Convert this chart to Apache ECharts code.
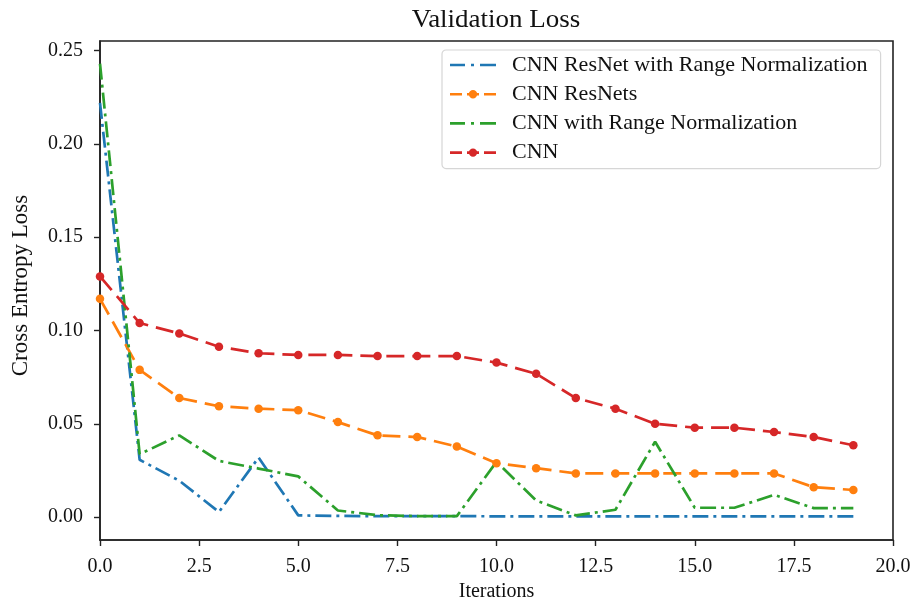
<!DOCTYPE html>
<html>
<head>
<meta charset="utf-8">
<script src="https://cdn.jsdelivr.net/npm/echarts@6/dist/echarts.min.js"></script>
<style>
  html, body { margin: 0; padding: 0; background: #fff; }
  #chart { width: 916px; height: 607px; }
</style>
</head>
<body>
<div id="chart"></div>
<script>
// Validation loss per iteration for four model variants
const iterations = [0,1,2,3,4,5,6,7,8,9,10,11,12,13,14,15,16,17,18,19];

const resnetRangeNorm = [0.222,0.0307,0.0195,0.0027,0.0319,0.0009,0.0006,0.0005,0.0005,0.0005,0.0004,0.0004,0.0004,0.0004,0.0004,0.0004,0.0004,0.0004,0.0004,0.0004];
const resnets = [0.117,0.0789,0.0638,0.0594,0.0581,0.0573,0.0509,0.0438,0.0429,0.0378,0.0289,0.0262,0.0234,0.0234,0.0234,0.0234,0.0234,0.0234,0.016,0.0145];
const cnnRangeNorm = [0.243,0.0337,0.0438,0.0301,0.026,0.0218,0.0035,0.001,0.0005,0.0005,0.0296,0.0089,0.0009,0.0039,0.0404,0.005,0.005,0.0119,0.0048,0.0048];
const cnn = [0.129,0.104,0.0984,0.0913,0.0878,0.0869,0.0869,0.0863,0.0863,0.0863,0.0828,0.0768,0.0638,0.0581,0.050,0.0479,0.0479,0.0456,0.0429,0.0385];

const seriesNames = ['CNN ResNet with Range Normalization','CNN ResNets','CNN with Range Normalization','CNN'];
const xTicks = [0,2.5,5,7.5,10,12.5,15,17.5,20];
const yTicks = [0,0.05,0.1,0.15,0.2,0.25];

const FONT = '"Liberation Serif", "DejaVu Serif", serif';
const dashDot = [16,5,3,5];
const dashed = [18,8];

// Legend handles drawn on a 46x10 box (the leading moves pin the box size)
const ICON_DASH_MARKER = 'path://M0,0M46,10M0,3.7h12v2.6h-12zM17,3.7h12v2.6h-12zM34,3.7h12v2.6h-12zM18.8,5a4.2,4.2 0 1,1 8.4,0a4.2,4.2 0 1,1 -8.4,0z';
const ICON_DASH_DOT = 'path://M0,0M46,10M0,3.7h15v2.6h-15zM21,3.7h3v2.6h-3zM30,3.7h16v2.6h-16z';
const legendIcons = [ICON_DASH_DOT, ICON_DASH_MARKER, ICON_DASH_DOT, ICON_DASH_MARKER];

function pairs(ys) { return ys.map((v, i) => [iterations[i], v]); }

function lineSeries(name, ys, color, pattern, withMarker) {
  return {
    name: name,
    type: 'line',
    data: pairs(ys),
    showSymbol: withMarker,
    symbol: withMarker ? 'circle' : 'none',
    symbolSize: 8.5,
    itemStyle: { color: color },
    lineStyle: { color: color, width: 2.7, type: pattern },
    emphasis: { disabled: true },
    animation: false
  };
}

const chart = echarts.init(document.getElementById('chart'), null, { renderer: 'canvas' });
chart.setOption({
  backgroundColor: '#fff',
  animation: false,
  graphic: [{
    type: 'text',
    x: 496, y: 20,
    scaleX: 1.08,
    style: {
      text: 'Validation Loss',
      font: '25px ' + FONT,
      fill: '#111',
      textAlign: 'center',
      textVerticalAlign: 'middle'
    }
  }],
  grid: {
    left: 100, right: 23, top: 41, bottom: 64,
    show: true, borderColor: '#222', borderWidth: 1.6, backgroundColor: 'transparent'
  },
  legend: {
    orient: 'vertical',
    left: 442, top: 50,
    padding: [4, 13, 5, 8],
    itemGap: 7.2,
    itemWidth: 46,
    itemHeight: 10,
    backgroundColor: '#fff',
    borderColor: '#d6d6d6',
    borderWidth: 1.2,
    borderRadius: 4,
    itemStyle: { borderWidth: 0 },
    textStyle: { fontFamily: FONT, fontSize: 22, color: '#111', padding: [0, 0, 0, 11] },
    data: seriesNames.map((n, i) => ({ name: n, icon: legendIcons[i] }))
  },
  xAxis: {
    type: 'value',
    min: 0, max: 20,
    name: 'Iterations',
    nameLocation: 'middle',
    nameGap: 42,
    nameTextStyle: { fontFamily: FONT, fontSize: 20, color: '#111' },
    axisLine: { show: true, onZero: false, lineStyle: { color: '#222', width: 1.6 } },
    axisTick: { show: true, length: 6, lineStyle: { color: '#222', width: 1.4 }, customValues: xTicks },
    axisLabel: {
      fontFamily: FONT, fontSize: 20, color: '#111', margin: 17,
      customValues: xTicks,
      formatter: v => v.toFixed(1)
    },
    splitLine: { show: false }
  },
  yAxis: {
    type: 'value',
    min: -0.0123, max: 0.2552,
    name: 'Cross Entropy Loss',
    nameLocation: 'middle',
    nameGap: 68,
    nameRotate: 90,
    nameTextStyle: { fontFamily: FONT, fontSize: 23, color: '#111', padding: [0, 0, 0, 10] },
    axisLine: { show: true, onZero: false, lineStyle: { color: '#222', width: 1.6 } },
    axisTick: { show: true, length: 6, lineStyle: { color: '#222', width: 1.4 }, customValues: yTicks },
    axisLabel: {
      fontFamily: FONT, fontSize: 20, color: '#111', margin: 17,
      customValues: yTicks,
      formatter: v => v.toFixed(2)
    },
    splitLine: { show: false }
  },
  series: [
    lineSeries(seriesNames[0], resnetRangeNorm, '#1f77b4', dashDot, false),
    lineSeries(seriesNames[1], resnets, '#ff7f0e', dashed, true),
    lineSeries(seriesNames[2], cnnRangeNorm, '#2ca02c', dashDot, false),
    lineSeries(seriesNames[3], cnn, '#d62728', dashed, true)
  ]
});
</script>
</body>
</html>
